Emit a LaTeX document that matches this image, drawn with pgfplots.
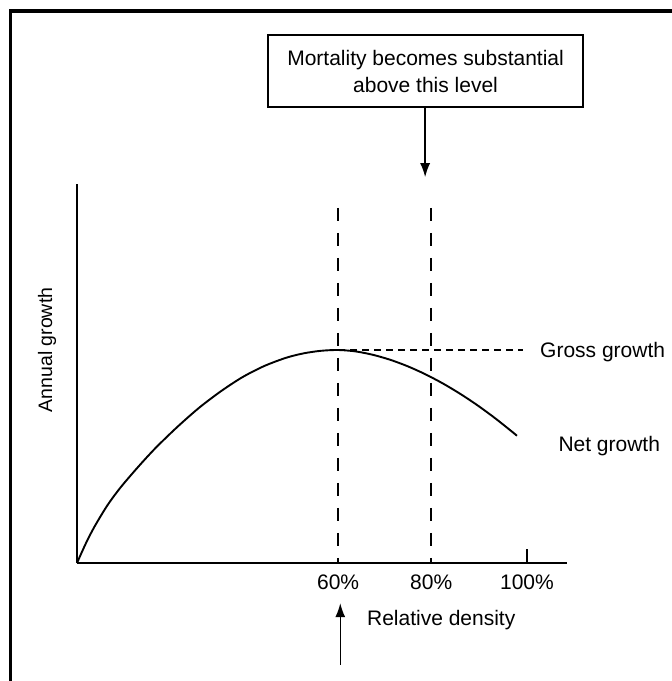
\documentclass[border=0pt]{standalone}
\usepackage{fontspec}
\setmainfont{Liberation Sans}
\usepackage{pgfplots}
\pgfplotsset{compat=1.18}
\usetikzlibrary{arrows.meta}
\newcommand{\lbl}{\fontsize{21}{27}\selectfont}
\begin{document}
\begin{tikzpicture}
\path[use as bounding box] (0pt,0pt) rectangle (672pt,681pt);
\draw[line width=3.5pt] (10.5pt,-2pt) -- (10.5pt,670pt) -- (674pt,670pt);
\begin{axis}[
  at={(77pt,118pt)}, anchor=origin,
  scale only axis, width=490pt, height=379pt,
  xmin=0, xmax=112.6, ymin=0, ymax=100,
  axis x line*=bottom, axis y line*=left,
  axis line style={-, line width=1.6pt},
  xtick={60,81.4}, xticklabels={60\%,80\%},
  extra x ticks={103.4}, extra x tick labels={100\%},
  major tick length=0pt,
  extra x tick style={major tick length=14pt, tick align=inside, tick style={line width=1.4pt, black}},
  ytick=\empty,
  xticklabel style={font=\lbl, inner sep=0pt, yshift=-12pt, anchor=north},
  clip=false,
]
\addplot[black, line width=1.9pt, smooth] coordinates {
(0,0) (2,5.09) (4,9.55) (7,15.24) (10,19.92) (14,25.29) (18,30.28) (23,35.84)
(28,40.90) (33,45.26) (38,49.02) (43,51.96) (48,54.13) (52,55.30) (56,55.98) (60,56.2)
(64,55.83) (68,54.93) (72,53.61) (76,51.90) (80,49.83) (84,47.42) (88,44.68)
(92,41.63) (96,38.27) (100,34.62) (101.1,33.57)};
\addplot[black, line width=1.3pt, dash pattern=on 7pt off 5pt] coordinates {(60,56.2) (102.6,56.2)};
\addplot[black, line width=1.6pt, dash pattern=on 13pt off 12pt] coordinates {(60,93.7) (60,0)};
\addplot[black, line width=1.6pt, dash pattern=on 13pt off 12pt] coordinates {(81.4,93.7) (81.4,0)};
\node[draw, line width=1.3pt, minimum width=315pt, minimum height=72pt, align=center, font=\lbl, inner sep=0pt] at (axis cs:80.1,129.8) {Mortality becomes substantial\\above this level};
\draw[line width=1.4pt, -{Latex[length=14pt,width=10pt]}] (axis cs:80.0,120.3) -- (axis cs:80.0,101.8);
\draw[line width=1.4pt, -{Latex[length=14pt,width=10pt]}] (axis cs:60.5,-26.9) -- (axis cs:60.5,-10.6);
\node[anchor=west, font=\lbl, inner sep=0pt] at (axis cs:106.4,55.7) {Gross growth};
\node[anchor=west, font=\lbl, inner sep=0pt] at (axis cs:110.6,30.9) {Net growth};
\node[font=\lbl, inner sep=0pt] at (axis cs:83.7,-15.0) {Relative density};
\node[rotate=90, font=\fontsize{19.5}{24}\selectfont, inner sep=0pt] at (axis cs:-6.9,56.2) {Annual growth};
\end{axis}
\end{tikzpicture}
\end{document}
